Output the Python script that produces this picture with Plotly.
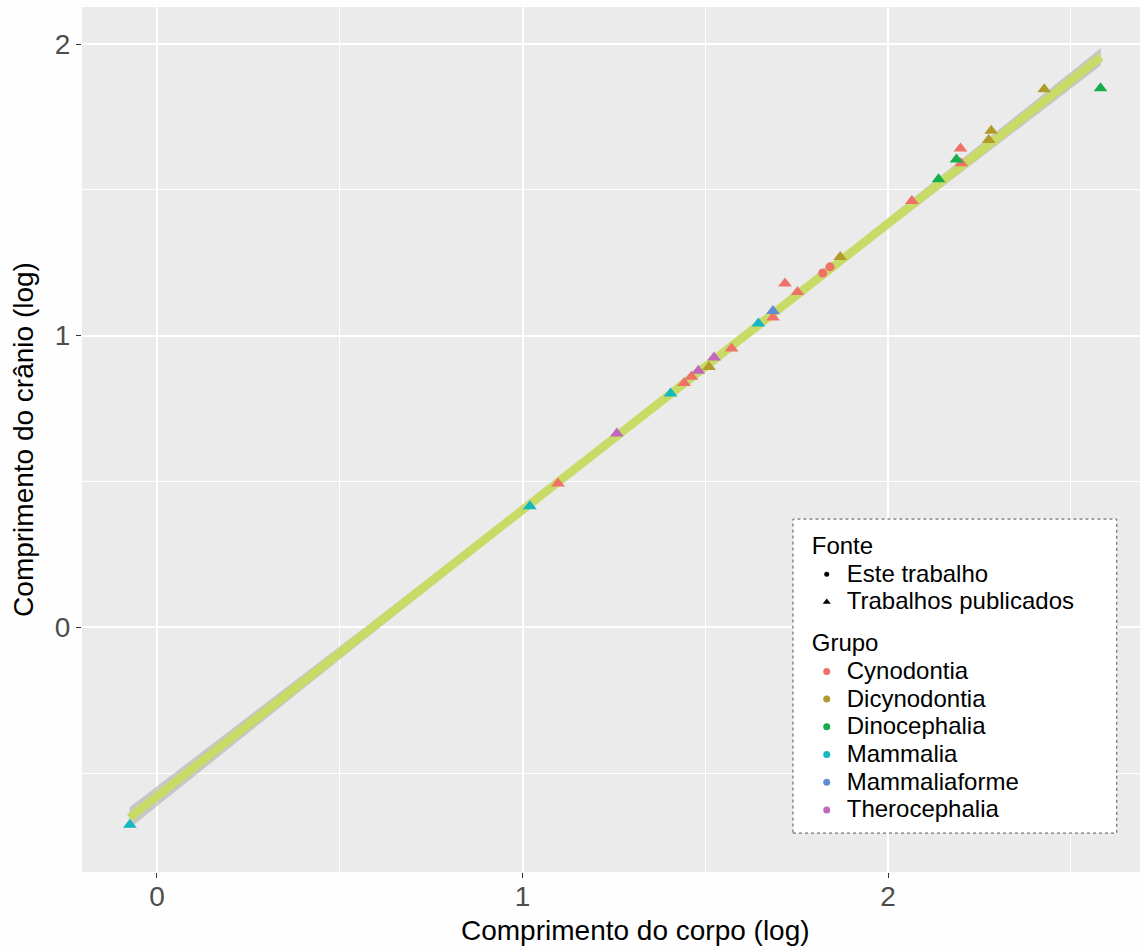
import plotly.graph_objects as go

# ---- data ----
grupo = [
    "Cynodontia", "Cynodontia", "Cynodontia", "Cynodontia", "Cynodontia",
    "Cynodontia", "Cynodontia", "Cynodontia", "Cynodontia", "Cynodontia",
    "Cynodontia", "Cynodontia",
    "Dicynodontia", "Dicynodontia", "Dicynodontia", "Dicynodontia", "Dicynodontia",
    "Dinocephalia", "Dinocephalia", "Dinocephalia",
    "Mammalia", "Mammalia", "Mammalia", "Mammalia",
    "Mammaliaforme",
    "Therocephalia", "Therocephalia", "Therocephalia",
]
fonte = [
    "Trabalhos publicados", "Trabalhos publicados", "Trabalhos publicados",
    "Trabalhos publicados", "Trabalhos publicados", "Trabalhos publicados",
    "Trabalhos publicados", "Trabalhos publicados", "Trabalhos publicados",
    "Trabalhos publicados", "Este trabalho", "Este trabalho",
    "Trabalhos publicados", "Trabalhos publicados", "Trabalhos publicados",
    "Trabalhos publicados", "Trabalhos publicados",
    "Trabalhos publicados", "Trabalhos publicados", "Trabalhos publicados",
    "Trabalhos publicados", "Trabalhos publicados", "Trabalhos publicados",
    "Trabalhos publicados",
    "Trabalhos publicados",
    "Trabalhos publicados", "Trabalhos publicados", "Trabalhos publicados",
]
corpo_log = [
    2.198, 2.200, 2.065, 1.718, 1.752, 1.685, 1.572, 1.462, 1.442, 1.097,
    1.841, 1.821,
    2.427, 2.282, 2.275, 1.869, 1.510,
    2.581, 2.187, 2.138,
    1.645, 1.405, 1.020, -0.074,
    1.685,
    1.524, 1.481, 1.258,
]
cranio_log = [
    1.642, 1.591, 1.462, 1.179, 1.150, 1.062, 0.956, 0.859, 0.838, 0.493,
    1.236, 1.215,
    1.845, 1.703, 1.671, 1.270, 0.893,
    1.848, 1.604, 1.536,
    1.042, 0.802, 0.415, -0.677,
    1.085,
    0.925, 0.880, 0.665,
]

# fitted line (geom_smooth, lm) and its confidence band
fit_x = [-0.075, 0.6, 1.3, 1.9, 2.582]
fit_y = [-0.653, 0.010, 0.698, 1.287, 1.956]
fit_lo = [-0.689, -0.010, 0.685, 1.271, 1.926]
fit_hi = [-0.617, 0.030, 0.711, 1.303, 1.986]

grupos = ["Cynodontia", "Dicynodontia", "Dinocephalia", "Mammalia",
          "Mammaliaforme", "Therocephalia"]
fontes = ["Este trabalho", "Trabalhos publicados"]

x_ticks = [0, 1, 2]
y_ticks = [0, 1, 2]

x_titulo = "Comprimento do corpo (log)"
y_titulo = "Comprimento do crânio (log)"

# ---- styling ----
cores = {
    "Cynodontia": "#EF7168",
    "Dicynodontia": "#B19B2C",
    "Dinocephalia": "#16AE4D",
    "Mammalia": "#15B7C0",
    "Mammaliaforme": "#618DD2",
    "Therocephalia": "#C068BC",
}
simbolos = {"Este trabalho": "circle", "Trabalhos publicados": "triangle-up"}
tamanhos = {"Este trabalho": 9, "Trabalhos publicados": 12}

FONT = "Liberation Sans, Arial, Helvetica, sans-serif"
LEG_TXT = 24      # rendered legend text size
LEG_ROW = 19      # nominal legend font size (controls row spacing)


def leg(txt):
    return f'<span style="font-size:{LEG_TXT}px">{txt}</span>'


fig = go.Figure()

# confidence band
fig.add_trace(go.Scatter(x=fit_x, y=fit_lo, mode="lines", line=dict(width=0),
                         showlegend=False, hoverinfo="skip"))
fig.add_trace(go.Scatter(x=fit_x, y=fit_hi, mode="lines", line=dict(width=0),
                         fill="tonexty", fillcolor="rgba(153,153,153,0.45)",
                         showlegend=False, hoverinfo="skip"))
# fitted line
fig.add_trace(go.Scatter(x=fit_x, y=fit_y, mode="lines",
                         line=dict(color="#C8DB66", width=8.5),
                         showlegend=False, hoverinfo="skip"))

# data points
for g in grupos:
    for f in fontes:
        xs = [x for x, gg, ff in zip(corpo_log, grupo, fonte) if gg == g and ff == f]
        ys = [y for y, gg, ff in zip(cranio_log, grupo, fonte) if gg == g and ff == f]
        if not xs:
            continue
        fig.add_trace(go.Scatter(
            x=xs, y=ys, mode="markers", name=f"{g} – {f}",
            marker=dict(symbol=simbolos[f], size=tamanhos[f], color=cores[g],
                        line=dict(width=0)),
            showlegend=False,
        ))

# legend entries (ggplot-like two-part legend)
for i, f in enumerate(fontes):
    fig.add_trace(go.Scatter(
        x=[None], y=[None], mode="markers", name=leg(f),
        marker=dict(symbol=simbolos[f], size=5 if f == "Este trabalho" else 7,
                    color="black"),
        legendgroup="fonte",
        legendgrouptitle=dict(text=leg("Fonte") if i == 0 else None,
                              font=dict(family=FONT, size=LEG_ROW, color="black")),
        showlegend=True,
    ))
for i, g in enumerate(grupos):
    fig.add_trace(go.Scatter(
        x=[None], y=[None], mode="markers", name=leg(g),
        marker=dict(symbol="circle", size=7, color=cores[g]),
        legendgroup="grupo",
        legendgrouptitle=dict(text=leg("Grupo") if i == 0 else None,
                              font=dict(family=FONT, size=LEG_ROW, color="black")),
        showlegend=True,
    ))

# legend box (white with dotted border)
fig.add_shape(type="rect", xref="paper", yref="paper",
              x0=0.672, x1=0.978, y0=0.045, y1=0.408,
              fillcolor="white", line=dict(color="#555555", width=1, dash="dot"),
              layer="above")

# x-axis title (placed like the reference, centred on the full original panel)
fig.add_annotation(text=x_titulo, xref="paper", yref="paper", x=0.5227, y=0,
                   xanchor="center", yanchor="middle", yshift=-58, showarrow=False,
                   font=dict(family=FONT, size=28, color="black"))

axis_common = dict(
    showgrid=True, gridcolor="white", gridwidth=2.2,
    zeroline=False, showline=False,
    ticks="outside", ticklen=5, tickwidth=1.1, tickcolor="#333333",
    tickfont=dict(family=FONT, size=28, color="#4D4D4D"),
    minor=dict(dtick=0.5, tick0=0, showgrid=True, gridcolor="white",
               gridwidth=1.1, ticks=""),
)

fig.update_layout(
    width=1140, height=950,
    margin=dict(l=82, r=0, t=7, b=78),
    paper_bgcolor="#FEFEFE",
    plot_bgcolor="#EBEBEB",
    font=dict(family=FONT, color="black"),
    xaxis=dict(range=[-0.205, 2.689], tickvals=x_ticks, ticktext=[str(v) for v in x_ticks],
               ticklabelstandoff=-6, **axis_common),
    yaxis=dict(range=[-0.839, 2.127], tickvals=y_ticks, ticktext=[str(v) for v in y_ticks],
               title=dict(text=y_titulo,
                          font=dict(family=FONT, size=28, color="black"), standoff=13),
               **axis_common),
    legend=dict(
        x=0.685, y=0.398, xanchor="left", yanchor="top",
        bgcolor="rgba(255,255,255,0)", borderwidth=0,
        font=dict(family=FONT, size=LEG_ROW, color="black"),
        traceorder="grouped", tracegroupgap=14,
        itemsizing="trace",
    ),
    showlegend=True,
)

fig.write_html("out.html", config={"displayModeBar": False},
               post_script="document.body.style.margin='0px';")
